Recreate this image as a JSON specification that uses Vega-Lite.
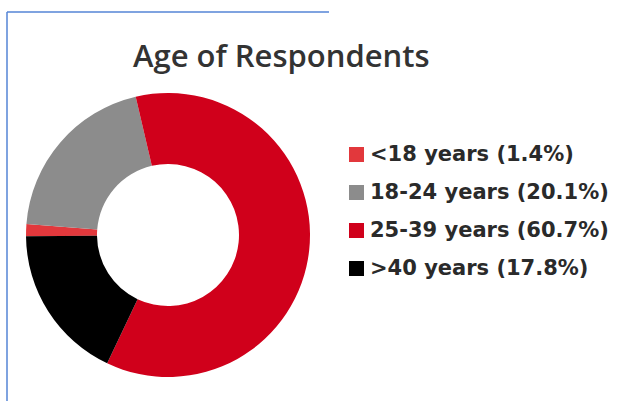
{
  "$schema": "https://vega.github.io/schema/vega-lite/v6.json",
  "autosize": {"type": "none"},
  "width": 322,
  "height": 446,
  "padding": {"left": 7, "top": 12, "right": 288, "bottom": 0},
  "background": "#ffffff",
  "title": {
    "text": "Age of Respondents",
    "anchor": "start",
    "frame": "group",
    "dx": 126,
    "dy": 62,
    "offset": 0,
    "font": "Open Sans",
    "fontSize": 31,
    "fontWeight": 600,
    "color": "#333333"
  },
  "data": {
    "values": [
      {"group": "<18 years (1.4%)", "share": 1.4, "rank": 3},
      {"group": "18-24 years (20.1%)", "share": 20.1, "rank": 4},
      {"group": "25-39 years (60.7%)", "share": 60.7, "rank": 1},
      {"group": ">40 years (17.8%)", "share": 17.8, "rank": 2}
    ]
  },
  "mark": {"type": "arc", "outerRadius": 142, "innerRadius": 71},
  "encoding": {
    "theta": {
      "field": "share",
      "type": "quantitative",
      "stack": true,
      "scale": {"range": [-0.2295, 6.0537]}
    },
    "order": {"field": "rank", "type": "quantitative"},
    "color": {
      "field": "group",
      "type": "nominal",
      "scale": {
        "domain": ["<18 years (1.4%)", "18-24 years (20.1%)", "25-39 years (60.7%)", ">40 years (17.8%)"],
        "range": ["#e2383c", "#8c8c8c", "#d0001b", "#000000"]
      },
      "legend": {
        "title": null,
        "orient": "none",
        "legendX": 339,
        "legendY": 132,
        "padding": 0,
        "symbolType": "square",
        "symbolSize": 225,
        "symbolStrokeWidth": 0,
        "labelFont": "DejaVu Sans",
        "labelFontSize": 21,
        "labelFontWeight": 700,
        "labelColor": "#2a2a2a",
        "labelOffset": 3,
        "labelLimit": 400,
        "rowPadding": 16
      }
    }
  },
  "view": {"stroke": "#5585d6", "strokeWidth": 1.5, "strokeDash": [322, 768, 446, 0]},
  "config": {}
}
